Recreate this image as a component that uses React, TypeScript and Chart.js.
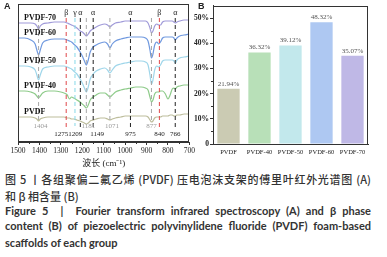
import React, { useEffect, useRef } from 'react';
import { Chart, registerables } from 'chart.js';

Chart.register(...registerables);

// ---------- Panel A: FTIR spectra (transmittance, arbitrary offset units) ----------
const waveNumbers = [
  1500, 1470, 1440, 1420, 1412, 1404, 1396, 1385, 1360, 1330,
  1300, 1285, 1270, 1260, 1250, 1240, 1225, 1210, 1200, 1190,
  1181, 1172, 1163, 1149, 1135, 1115, 1095, 1082, 1071, 1060,
  1045, 1020, 1000, 975, 950, 925, 905, 893, 884, 877,
  870, 862, 852, 843, 835, 825, 812, 800, 790, 780,
  772, 766, 758, 745, 725, 700,
];
const pvdf70 = [
  119, 119, 119, 118, 116, 113, 116, 118, 119, 120,
  120, 120, 119, 118, 117, 116, 114, 111, 110, 108,
  106, 108, 111, 113, 115, 117, 118, 117, 115, 117,
  119, 120, 121, 121, 121, 121, 121, 119, 114, 109,
  111, 116, 118, 117, 117, 120, 121, 121, 121, 121,
  120, 119, 120, 121, 122, 122,
];
const pvdf60 = [
  104, 104, 102, 98, 92, 87, 92, 99, 102, 103,
  103, 103, 102, 101, 100, 98, 95, 90, 86, 81,
  77, 82, 90, 95, 97, 99, 100, 98, 94, 98,
  101, 103, 104, 105, 105, 105, 104, 101, 92, 84,
  88, 97, 100, 98, 100, 104, 105, 105, 105, 105,
  104, 102, 104, 106, 107, 108,
];
const pvdf50 = [
  76, 76, 75, 72, 67, 62, 67, 73, 75, 76,
  76, 76, 75, 74, 73, 71, 68, 63, 59, 54,
  50, 55, 63, 68, 71, 73, 74, 72, 69, 72,
  76, 78, 79, 80, 81, 81, 80, 77, 67, 58,
  62, 72, 76, 75, 77, 81, 82, 82, 82, 82,
  81, 79, 82, 84, 85, 86,
];
const pvdf40 = [
  51, 51, 50, 48, 46, 44, 46, 49, 51, 51,
  50, 49, 47, 43, 45, 44, 42, 40, 38, 36,
  34, 37, 42, 45, 47, 49, 49, 47, 45, 47,
  50, 52, 53, 54, 55, 55, 54, 52, 45, 40,
  42, 48, 50, 50, 51, 51, 48, 43, 47, 53,
  54, 53, 55, 56, 57, 57,
];
const pvdf = [
  25, 25, 25, 24, 23, 21, 23, 24, 25, 25,
  25, 25, 24, 24, 23, 23, 22, 21, 20, 19,
  18, 19, 21, 22, 23, 24, 24, 23, 22, 23,
  24, 25, 26, 26, 26, 26, 26, 25, 22, 20,
  21, 24, 25, 25, 25, 26, 26, 26, 27, 27,
  26, 26, 27, 27, 28, 28,
];
const spectraNames = ['PVDF-70', 'PVDF-60', 'PVDF-50', 'PVDF-40', 'PVDF'];

const peakWavenumbers = [1404, 1275, 1234, 1209, 1181, 1149, 1071, 975, 877, 840, 766];
const peakKinds = ['gray', 'beta', 'gamma', 'alpha', 'gray', 'alpha', 'gray', 'alpha', 'gray', 'beta', 'alpha'];
const peakPhaseLabels = ['', 'β', 'γ', 'α', '', 'α', '', 'α', '', 'β', 'α'];
const peakNumberLabels = ['1404', '1275', '', '1209', '1181', '1149', '1071', '975', '877', '840', '766'];
const xTicksA = [1500, 1400, 1300, 1200, 1100, 1000, 900, 800, 700];

// ---------- Panel B: beta phase content ----------
const groups = ['PVDF', 'PVDF-40', 'PVDF-50', 'PVDF-60', 'PVDF-70'];
const betaContent = [21.94, 36.32, 39.12, 48.32, 35.07];
const yTicksB = [0, 10, 20, 30, 40, 50];

// ---------- styles ----------
const spectraColors = ['#a09ad9', '#7099df', '#9fd6ea', '#8ecb8a', '#bdbd9c'];
const barColors = ['#cbcbb3', '#b8e0b8', '#c2e8ec', '#aec8f2', '#bfb8e6'];
const peakStyle: Record<string, { color: string; top: number; bottom: number }> = {
  gray: { color: '#a8a8a8', top: 124, bottom: 20 },
  beta: { color: '#e0484a', top: 124, bottom: 14 },
  gamma: { color: '#86d8e8', top: 124, bottom: 16 },
  alpha: { color: '#222222', top: 124, bottom: 14 },
};
const peakLabelNudge = [2, -5, 0, -5, 2, 4, 2, 0, 0, 0, 0]; // px, avoids overlap like the original
const SERIF = '"Liberation Serif", "Times New Roman", serif';

export default function App() {
  const refA = useRef<HTMLCanvasElement>(null);
  const refB = useRef<HTMLCanvasElement>(null);

  useEffect(() => {
    const spectra = [pvdf70, pvdf60, pvdf50, pvdf40, pvdf];
    const curveSets: any[] = spectra.map((vals, i) => ({
      label: spectraNames[i],
      data: waveNumbers.map((w, j) => ({ x: w, y: vals[j] })),
      borderColor: spectraColors[i],
      borderWidth: 1.2,
      pointRadius: 0,
      cubicInterpolationMode: 'monotone',
      fill: false,
      order: 2,
    }));
    const dashSets: any[] = peakWavenumbers.map((w, i) => {
      const st = peakStyle[peakKinds[i]];
      return {
        label: 'peak-' + w,
        data: [{ x: w, y: st.top }, { x: w, y: st.bottom }],
        borderColor: st.color,
        borderWidth: 1,
        borderDash: [4, 3],
        pointRadius: 0,
        fill: false,
        order: 1,
      };
    });

    const labelIdx = waveNumbers.indexOf(1470);

    const pluginA = {
      id: 'panelA',
      afterDraw(chart: any) {
        const { ctx, chartArea: ca, scales } = chart;
        const x = scales.x;
        const y = scales.y;
        ctx.save();
        ctx.strokeStyle = '#333';
        ctx.lineWidth = 1;
        ctx.strokeRect(Math.round(ca.left) + 0.5, Math.round(ca.top) + 0.5,
          Math.round(ca.right - ca.left) - 1, Math.round(ca.bottom - ca.top) - 1);
        for (let k = 0; k < xTicksA.length - 1; k++) {
          const mid = (xTicksA[k] + xTicksA[k + 1]) / 2;
          const px = Math.round(x.getPixelForValue(mid)) + 0.5;
          ctx.beginPath();
          ctx.moveTo(px, ca.bottom);
          ctx.lineTo(px, ca.bottom + 2);
          ctx.stroke();
        }
        ctx.textAlign = 'center';
        ctx.textBaseline = 'middle';
        ctx.font = `8px ${SERIF}`;
        ctx.fillStyle = '#222';
        peakWavenumbers.forEach((w, i) => {
          if (!peakPhaseLabels[i]) return;
          ctx.fillText(peakPhaseLabels[i], x.getPixelForValue(w), ca.top + 9);
        });
        ctx.font = `7px ${SERIF}`;
        peakWavenumbers.forEach((w, i) => {
          if (!peakNumberLabels[i]) return;
          const gray = peakKinds[i] === 'gray';
          ctx.fillStyle = gray ? '#9a9a9a' : '#222';
          ctx.fillText(peakNumberLabels[i], x.getPixelForValue(w) + peakLabelNudge[i], ca.bottom + (gray ? -16 : -8));
        });
        ctx.font = `bold 8px ${SERIF}`;
        ctx.textAlign = 'left';
        ctx.textBaseline = 'bottom';
        ctx.fillStyle = '#111';
        spectra.forEach((vals, i) => {
          ctx.fillText(spectraNames[i], x.getPixelForValue(1472), y.getPixelForValue(vals[labelIdx]) - 1);
        });
        ctx.restore();
      },
    };

    const chartA = new Chart(refA.current as HTMLCanvasElement, {
      type: 'line',
      data: { datasets: [...dashSets, ...curveSets] },
      options: {
        animation: false,
        responsive: false,
        devicePixelRatio: 1,
        layout: { padding: { left: 18, right: 6, top: 4, bottom: 0 } },
        plugins: { legend: { display: false }, tooltip: { enabled: false } },
        scales: {
          x: {
            type: 'linear',
            reverse: true,
            min: 700,
            max: 1500,
            afterFit: (s: any) => { s.height = 28; },
            afterBuildTicks: (s: any) => { s.ticks = xTicksA.map((v) => ({ value: v })); },
            ticks: {
              font: { size: 7.5, family: SERIF }, color: '#222', padding: 2, maxRotation: 0, autoSkip: false,
              callback: (v: any) => String(v),
            },
            grid: { drawOnChartArea: false, tickLength: 3, color: '#333' },
            border: { color: '#333' },
            title: {
              display: true,
              text: '波长 (cm⁻¹)',
              font: { size: 9, family: `${SERIF}, "Noto Sans CJK SC"` },
              color: '#222',
              padding: { top: 0, bottom: 1 },
            },
          },
          y: { display: false, min: 0, max: 138 },
        },
      } as any,
      plugins: [pluginA],
    });

    const pluginB = {
      id: 'panelB',
      afterDraw(chart: any) {
        const { ctx, chartArea: ca, scales } = chart;
        const y = scales.y;
        ctx.save();
        ctx.strokeStyle = '#333';
        ctx.lineWidth = 1;
        ctx.strokeRect(Math.round(ca.left) + 0.5, Math.round(ca.top) + 0.5,
          Math.round(ca.right - ca.left) - 1, Math.round(ca.bottom - ca.top) - 1);
        for (let k = 0; k < yTicksB.length - 1; k++) {
          const py = Math.round(y.getPixelForValue((yTicksB[k] + yTicksB[k + 1]) / 2)) + 0.5;
          ctx.beginPath();
          ctx.moveTo(ca.left - 2, py);
          ctx.lineTo(ca.left, py);
          ctx.stroke();
        }
        const meta = chart.getDatasetMeta(0);
        ctx.font = `7px ${SERIF}`;
        ctx.fillStyle = '#555';
        ctx.textAlign = 'center';
        ctx.textBaseline = 'bottom';
        meta.data.forEach((bar: any, i: number) => {
          ctx.fillText(betaContent[i].toFixed(2) + '%', bar.x, bar.y - 1.5);
        });
        ctx.restore();
      },
    };

    const chartB = new Chart(refB.current as HTMLCanvasElement, {
      type: 'bar',
      data: {
        labels: groups,
        datasets: [{
          data: betaContent,
          backgroundColor: barColors,
          borderWidth: 0,
          categoryPercentage: 0.72,
          barPercentage: 1,
        }],
      },
      options: {
        animation: false,
        responsive: false,
        devicePixelRatio: 1,
        layout: { padding: { left: 0, right: 19, top: 5, bottom: 0 } },
        plugins: { legend: { display: false }, tooltip: { enabled: false } },
        scales: {
          x: {
            afterFit: (s: any) => { s.height = 16; },
            ticks: { font: { size: 6.5, family: SERIF }, color: '#222', padding: 4, maxRotation: 0, autoSkip: false },
            grid: { display: false, drawTicks: false, tickLength: 0 },
            border: { color: '#333' },
          },
          y: {
            min: 0,
            max: 55,
            afterFit: (s: any) => { s.width = 21; },
            afterBuildTicks: (s: any) => { s.ticks = yTicksB.map((v) => ({ value: v })); },
            ticks: {
              font: { size: 7.5, family: SERIF, weight: 'bold' },
              color: '#222',
              padding: 1,
              callback: (v: any) => (v === 0 ? '0' : v + '%'),
            },
            grid: { drawOnChartArea: false, tickLength: 3, color: '#333' },
            border: { color: '#333' },
          },
        },
      } as any,
      plugins: [pluginB],
    });

    return () => {
      chartA.destroy();
      chartB.destroy();
    };
  }, []);

  const cjk = '"Noto Sans CJK SC", sans-serif';
  const lat = 'Lato, "Open Sans", sans-serif';
  const lineBase: React.CSSProperties = {
    position: 'absolute', left: 5, width: 366, height: 16, lineHeight: '16px',
    whiteSpace: 'nowrap', color: '#333',
  };
  const just: React.CSSProperties = { textAlign: 'justify', textAlignLast: 'justify' as any, whiteSpace: 'normal' };

  return (
    <div style={{ position: 'absolute', left: 0, top: 0, width: 387, height: 257, background: '#fff', overflow: 'hidden' }}>
      <canvas ref={refA} width={197} height={170} style={{ position: 'absolute', left: 0, top: 0, width: 197, height: 170 }} />
      <canvas ref={refB} width={195} height={160} style={{ position: 'absolute', left: 192, top: 0, width: 195, height: 160 }} />
      <div style={{ position: 'absolute', left: 4, top: 1, font: 'bold 9px "Liberation Sans", Arial, sans-serif', color: '#222' }}>A</div>
      <div style={{ position: 'absolute', left: 198, top: 1, font: 'bold 9px "Liberation Sans", Arial, sans-serif', color: '#222' }}>B</div>
      <div style={{ ...lineBase, ...just, top: 171, font: `500 11px ${cjk}` }}>
        图 5 丨各组聚偏二氟乙烯 (PVDF) 压电泡沫支架的傅里叶红外光谱图 (A)
      </div>
      <div style={{ ...lineBase, top: 188, font: `500 11px ${cjk}` }}>和 β 相含量 (B)</div>
      <div style={{ ...lineBase, ...just, top: 204, font: `bold 11px ${lat}` }}>
        Figure 5 &nbsp;| &nbsp;Fourier transform infrared spectroscopy (A) and β phase
      </div>
      <div style={{ ...lineBase, ...just, top: 219, font: `bold 11px ${lat}` }}>
        content (B) of piezoelectric polyvinylidene fluoride (PVDF) foam-based
      </div>
      <div style={{ ...lineBase, top: 236, font: `bold 11px ${lat}` }}>scaffolds of each group</div>
    </div>
  );
}
